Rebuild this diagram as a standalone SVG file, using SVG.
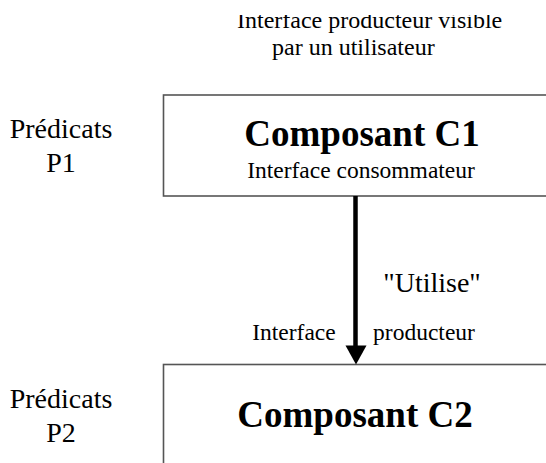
<svg xmlns="http://www.w3.org/2000/svg" width="546" height="463" viewBox="0 0 546 463">
<style>
.t{font-family:"Liberation Serif","Times New Roman",serif;fill:#000}
.box{fill:#fff;stroke:#555;stroke-width:1.6}
</style>
<defs>
<clipPath id="topclip"><rect x="0" y="15" width="546" height="448"/></clipPath>
</defs>
<rect width="546" height="463" fill="#fff"/>
<g id="caption" clip-path="url(#topclip)">
<text class="t" x="237" y="28" font-size="24">Interface producteur visible</text>
</g>
<text class="t" x="272" y="55" font-size="24">par un utilisateur</text>
<g id="pred1">
<text class="t" x="61" y="138" font-size="28" text-anchor="middle">Prédicats</text>
<text class="t" x="61" y="172" font-size="28" text-anchor="middle">P1</text>
</g>
<g id="c1">
<rect class="box" x="163.5" y="95" width="400" height="101"/>
<text class="t" x="362" y="146" font-size="37" font-weight="bold" text-anchor="middle">Composant C1</text>
<text class="t" x="361" y="178" font-size="23.5" text-anchor="middle">Interface consommateur</text>
</g>
<g id="pred2">
<text class="t" x="61" y="408" font-size="28" text-anchor="middle">Prédicats</text>
<text class="t" x="61" y="442" font-size="28" text-anchor="middle">P2</text>
</g>
<g id="c2">
<rect class="box" x="163.5" y="364.5" width="400" height="120"/>
<text class="t" x="355" y="427" font-size="37" font-weight="bold" text-anchor="middle">Composant C2</text>
</g>
<g id="connectors">
<line x1="355.5" y1="196" x2="355.5" y2="347" stroke="#000" stroke-width="4.5"/>
<polygon points="345.5,345.5 366.5,345.5 356,364.5" fill="#000"/>
<text class="t" x="432" y="292" font-size="28" text-anchor="middle">"Utilise"</text>
<text class="t" x="294" y="340" font-size="23.5" text-anchor="middle">Interface</text>
<text class="t" x="424" y="340" font-size="23.5" text-anchor="middle">producteur</text>
</g>
</svg>
